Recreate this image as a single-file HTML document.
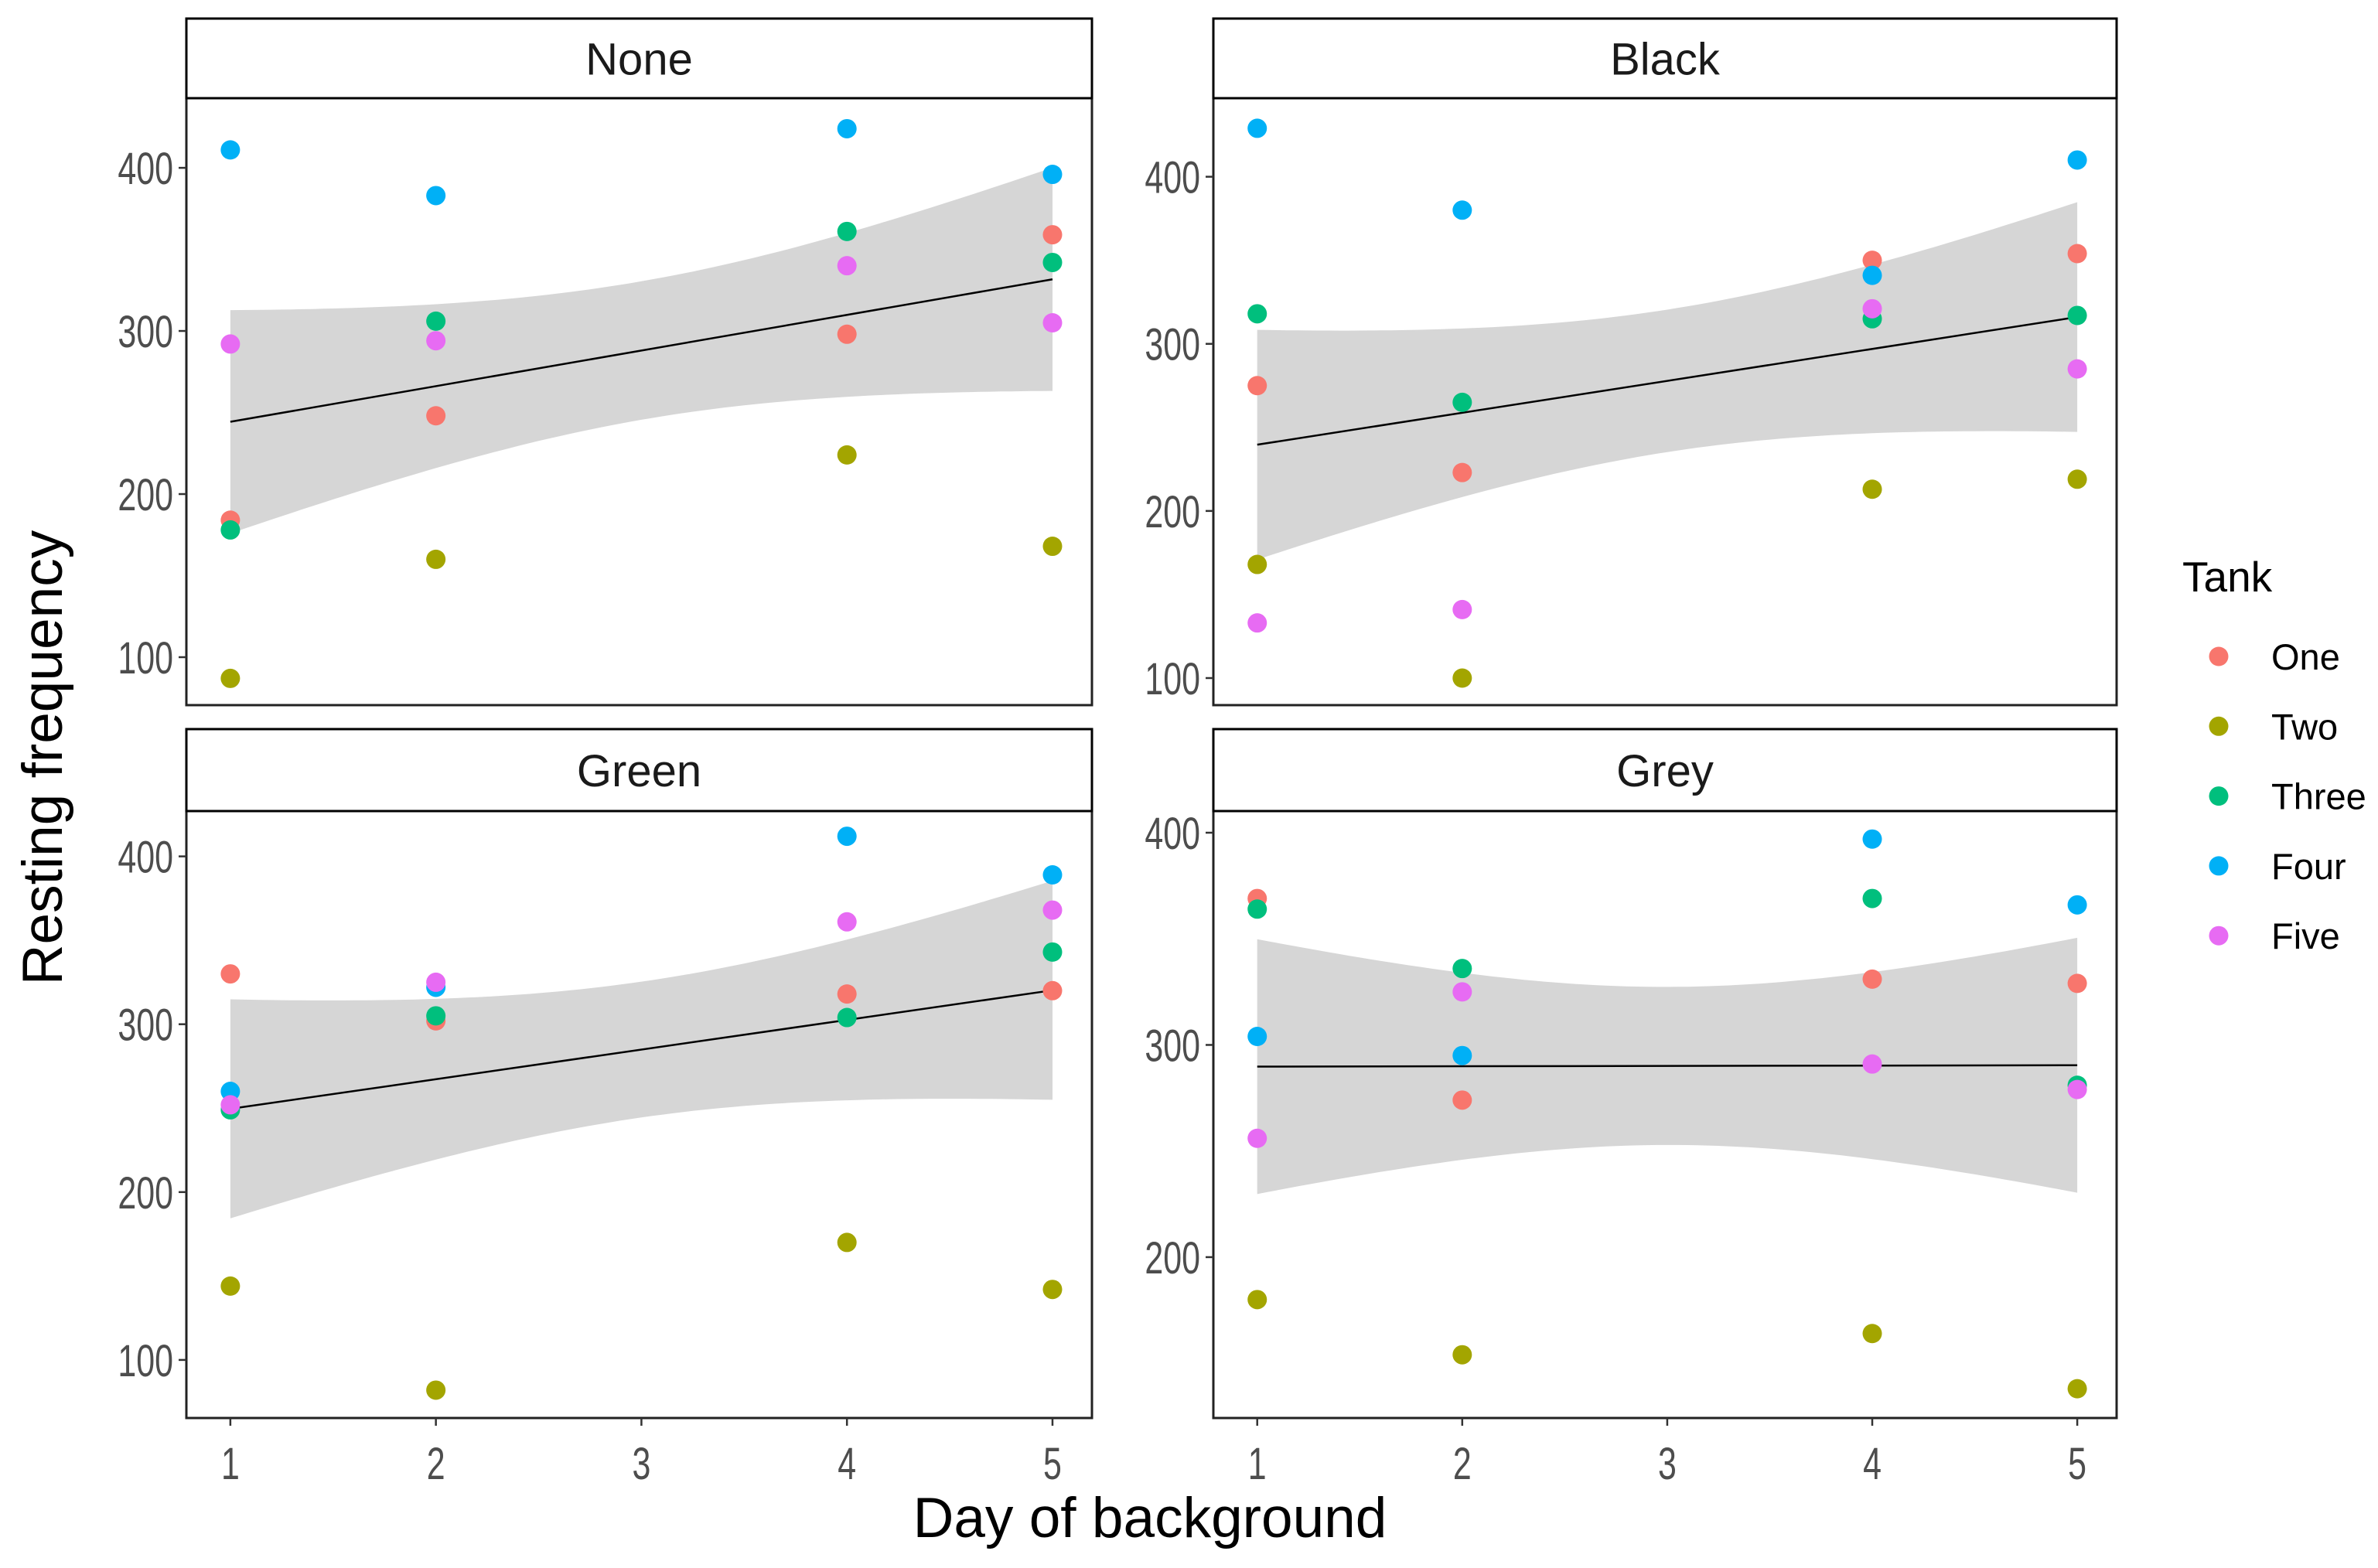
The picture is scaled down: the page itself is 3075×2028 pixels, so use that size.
<!DOCTYPE html>
<html><head><meta charset="utf-8">
<style>
html,body{margin:0;padding:0;background:#fff;}
svg{display:block;font-family:"Liberation Sans",Arial,sans-serif;}
</style></head>
<body>
<svg id="chart" width="3075" height="2028" viewBox="0 0 3075 2028" xmlns="http://www.w3.org/2000/svg">
<rect width="3075" height="2028" fill="#fff"/>
<text x="0" y="0" transform="translate(80,980) rotate(-90)" text-anchor="middle" font-size="73" fill="#000">Resting frequency</text>
<text x="1487" y="1988" text-anchor="middle" font-size="73" fill="#000">Day of background</text>
<g id="legend">
<text x="2822" y="765" font-size="55" fill="#000">Tank</text>
</g>
</svg>
<script>
const days = [1, 2, 4, 5];
const tanks = ["One", "Two", "Three", "Four", "Five"];
const colors = ["#F8766D", "#A3A500", "#00BF7D", "#00B0F6", "#E76BF3"];
const panelNames = ["None", "Black", "Green", "Grey"];
// values[tank][dayIndex] per panel
const noneValues = [
  [184, 248, 298, 359],
  [87, 160, 224, 168],
  [178, 306, 361, 342],
  [411, 383, 424, 396],
  [292, 294, 340, 305]
];
const blackValues = [
  [275, 223, 350, 354],
  [168, 100, 213, 219],
  [318, 265, 315, 317],
  [429, 380, 341, 410],
  [133, 141, 321, 285]
];
const greenValues = [
  [330, 302, 318, 320],
  [144, 82, 170, 142],
  [249, 305, 304, 343],
  [260, 322, 412, 389],
  [252, 325, 361, 368]
];
const greyValues = [
  [369, 274, 331, 329],
  [180, 154, 164, 138],
  [364, 336, 369, 281],
  [304, 295, 397, 366],
  [256, 325, 291, 279]
];
const yTicksMain = [100, 200, 300, 400];
const yTicksGrey = [200, 300, 400];
const xTicks = [1, 2, 3, 4, 5];

const NS = "http://www.w3.org/2000/svg";
const svg = document.getElementById("chart");
function mk(tag, attrs, parent) {
  const e = document.createElementNS(NS, tag);
  for (const k in attrs) e.setAttribute(k, attrs[k]);
  (parent || svg).appendChild(e);
  return e;
}

const layout = [
  {l: 241, r: 1412, st: 24, sb: 127, b: 912, ymin: 70.6, ymax: 442.7, data: noneValues, ticks: yTicksMain, xAxis: false},
  {l: 1569, r: 2737, st: 24, sb: 127, b: 912, ymin: 83.8, ymax: 447, data: blackValues, ticks: yTicksMain, xAxis: false},
  {l: 241, r: 1412, st: 943, sb: 1049, b: 1834, ymin: 65.4, ymax: 427, data: greenValues, ticks: yTicksMain, xAxis: true},
  {l: 1569, r: 2737, st: 943, sb: 1049, b: 1834, ymin: 124.2, ymax: 410.2, data: greyValues, ticks: yTicksGrey, xAxis: true}
];
const xmin = 0.786, xmax = 5.192;

layout.forEach((p, pi) => {
  const g = mk("g", {});
  
  
  const xs = v => p.l + (v - xmin) / (xmax - xmin) * (p.r - p.l);
  const ys = v => p.b - (v - p.ymin) / (p.ymax - p.ymin) * (p.b - p.sb);

  const X = [], Y = [];
  p.data.forEach(row => row.forEach((v, di) => { X.push(days[di]); Y.push(v); }));
  const n = X.length;
  const mx = X.reduce((a, b) => a + b, 0) / n, my = Y.reduce((a, b) => a + b, 0) / n;
  let sxx = 0, sxy = 0;
  for (let i = 0; i < n; i++) { sxx += (X[i] - mx) ** 2; sxy += (X[i] - mx) * (Y[i] - my); }
  const slope = sxy / sxx, icpt = my - slope * mx;
  let sse = 0;
  for (let i = 0; i < n; i++) sse += (Y[i] - icpt - slope * X[i]) ** 2;
  const s = Math.sqrt(sse / (n - 2)), tq = 2.101;
  const up = [], lo = [];
  for (let k = 0; k <= 80; k++) {
    const x = days[0] + (days[days.length - 1] - days[0]) * k / 80;
    const f = icpt + slope * x;
    const se = s * Math.sqrt(1 / n + (x - mx) ** 2 / sxx);
    up.push(xs(x).toFixed(1) + "," + ys(f + tq * se).toFixed(1));
    lo.unshift(xs(x).toFixed(1) + "," + ys(f - tq * se).toFixed(1));
  }
  const band = mk("polygon", {points: up.concat(lo).join(" "), fill: "#d6d6d6"}, g);
  
  
  const x0 = days[0], x1 = days[days.length - 1];
  const line = mk("line", {x1: xs(x0), y1: ys(icpt + slope * x0), x2: xs(x1), y2: ys(icpt + slope * x1), stroke: "#000", "stroke-width": 2.5}, g);
  
  

  p.data.forEach((row, ti) => row.forEach((v, di) => {
    const c = mk("circle", {cx: xs(days[di]), cy: ys(v), r: 12.5, fill: colors[ti]}, g);
    
    
  }));

  const border = mk("rect", {x: p.l, y: p.sb, width: p.r - p.l, height: p.b - p.sb, fill: "none", stroke: "#222", "stroke-width": 3}, g);
  
  
  const strip = mk("rect", {x: p.l, y: p.st, width: p.r - p.l, height: p.sb - p.st, fill: "#fff", stroke: "#000", "stroke-width": 3}, g);
  
  
  const st = mk("text", {x: (p.l + p.r) / 2, y: (p.st + p.sb) / 2 + 21, "text-anchor": "middle", "font-size": 58, fill: "#1a1a1a"}, g);
  st.textContent = panelNames[pi];
  
  

  p.ticks.forEach(t => {
    const tl = mk("line", {x1: p.l - 10, x2: p.l, y1: ys(t), y2: ys(t), stroke: "#333", "stroke-width": 2.5}, g);
    
    
    const tx = mk("text", {x: 0, y: 0, transform: "translate(" + (p.l - 17) + "," + (ys(t) + 21) + ") scale(0.74,1)", "text-anchor": "end", "font-size": 58, fill: "#4d4d4d"}, g);
    tx.textContent = t;
    
    
  });
  if (p.xAxis) {
    xTicks.forEach(t => {
      const tl = mk("line", {x1: xs(t), x2: xs(t), y1: p.b, y2: p.b + 10, stroke: "#333", "stroke-width": 2.5}, g);
      
      
      const tx = mk("text", {x: 0, y: 0, transform: "translate(" + xs(t) + "," + (p.b + 79) + ") scale(0.74,1)", "text-anchor": "middle", "font-size": 58, fill: "#4d4d4d"}, g);
      tx.textContent = t;
      
      
    });
  }
});

const lg = document.getElementById("legend");
tanks.forEach((t, i) => {
  const y = 849 + i * 90.3;
  const c = mk("circle", {cx: 2869, cy: y, r: 12.5, fill: colors[i]}, lg);
  
  
  const tx = mk("text", {x: 2937, y: y + 17, "font-size": 47, fill: "#000"}, lg);
  tx.textContent = t;
  
  
});
</script>
</body></html>
